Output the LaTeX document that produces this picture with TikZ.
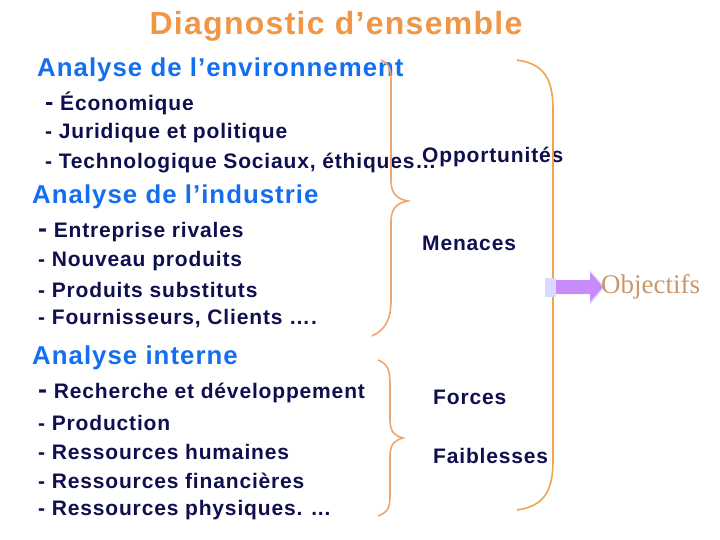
\documentclass[tikz,border=0pt]{standalone}
\usepackage{fontspec}
\setmainfont{Liberation Sans}[BoldFont={Liberation Sans Bold}]
\newfontfamily\wide{Liberation Sans Bold}[LetterSpace=4]
\newfontfamily\serifobj{Liberation Serif}
\definecolor{ttl}{RGB}{240,150,70}
\definecolor{hd}{RGB}{20,110,240}
\definecolor{nv}{RGB}{15,15,80}
\definecolor{br}{RGB}{240,165,110}
\definecolor{br2}{RGB}{238,165,80}
\definecolor{arr}{RGB}{200,140,250}
\definecolor{obj}{RGB}{205,150,105}
\begin{document}
\begin{tikzpicture}[x=1pt,y=-1pt,
 hdt/.style={anchor=west,text=hd,font=\wide\fontsize{25.8}{27}\selectfont,inner sep=0},
 itm/.style={anchor=west,text=nv,font=\wide\fontsize{21}{22}\selectfont,inner sep=0},
 brc/.style={draw=br,line width=1.6pt}]
\useasboundingbox (0,0) rectangle (720,540);
\node[anchor=center,text=ttl,font=\wide\fontsize{32}{34}\selectfont] (title) at (336,26) {Diagnostic d’ensemble};
\node[hdt] (h1) at (37,70) {Analyse de l’environnement};
\node[itm] (a1) at (45,103) {\fontsize{25}{26}\selectfont-\fontsize{21}{22}\selectfont{} Économique};
\node[itm] (a2) at (45,133) {- Juridique et politique};
\node[itm] (a3) at (45,163) {- Technologique Sociaux, éthiques…};
\node[itm] (op) at (422,157) {Opportunités};
\node[hdt] (h2) at (32,197) {Analyse de l’industrie};
\node[itm] (b1) at (38,232) {\fontsize{27}{27}\selectfont-\fontsize{21}{22}\selectfont{} Entreprise rivales};
\node[itm] (b2) at (38,261) {- Nouveau produits};
\node[itm] (b3) at (38,290) {- Produits substituts};
\node[itm] (b4) at (38,319) {- Fournisseurs, Clients ….};
\node[itm] (me) at (422,243) {Menaces};
\node[hdt] (h3) at (32,358) {Analyse interne};
\node[itm] (c1) at (38,393) {\fontsize{27}{27}\selectfont-\fontsize{21}{22}\selectfont{} Recherche et développement};
\node[itm] (c2) at (38,423) {- Production};
\node[itm] (c3) at (38,452) {- Ressources humaines};
\node[itm] (c4) at (38,481) {- Ressources financières};
\node[itm] (c5) at (38,510) {- Ressources physiques. ...};
\node[itm] (fo) at (433,397) {Forces};
\node[itm] (fa) at (433,456) {Faiblesses};
% braces
\draw[brc] (381,60) .. controls (392,64) and (391,75) .. (391,90) -- (391,180)
  .. controls (391,195) and (398,199) .. (408,201)
  .. controls (398,203) and (391,207) .. (391,222) -- (391,270)
  .. controls (391,275) and (391,285) .. (391,300) .. controls (391,320) and (385,330) .. (372,336);
\draw[brc] (378,360) .. controls (388,364) and (390,370) .. (390,385) -- (390,420)
  .. controls (390,432) and (395,436) .. (403,438)
  .. controls (395,440) and (390,444) .. (390,456) -- (390,495)
  .. controls (390,508) and (388,512) .. (378,516);
\draw[draw=br2,line width=1.6pt] (517,60) .. controls (545,64) and (553,80) .. (553,110) -- (553,460)
  .. controls (553,490) and (545,506) .. (517,510);
% arrow
\fill[blue!15] (545,278) rectangle (556,297);
\fill[blue!12] (590,270) -- (605,287) -- (590,305) -- cycle;
\fill[arr] (556,280) -- (590,280) -- (590,272) -- (603,287) -- (590,302) -- (590,294) -- (556,294) -- cycle;
\coordinate (arrtip) at (601,287);
\node[anchor=west,inner sep=0,text=obj,font=\serifobj\fontsize{27}{28}\selectfont] (ob) at (arrtip) {Objectifs};
\end{tikzpicture}
\end{document}
